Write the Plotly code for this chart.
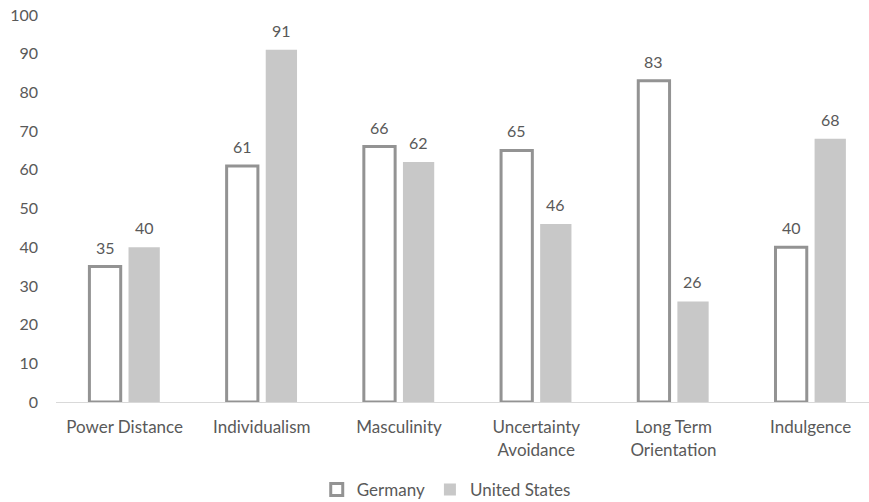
import plotly.graph_objects as go

categories = ["Power Distance", "Individualism", "Masculinity", "Uncertainty<br>Avoidance", "Long Term<br>Orientation", "Indulgence"]
germany = [35, 61, 66, 65, 83, 40]
united_states = [40, 91, 62, 46, 26, 68]
y_ticks = [0, 10, 20, 30, 40, 50, 60, 70, 80, 90, 100]

font_family = "Lato, 'Open Sans', sans-serif"
text_color = "#595959"

fig = go.Figure()
fig.add_trace(go.Bar(
    name="Germany", x=categories, y=germany,
    marker=dict(color="white", line=dict(color="#939393", width=3)),
))
fig.add_trace(go.Bar(
    name="United States", x=categories, y=united_states,
    marker=dict(color="#c8c8c8", line=dict(width=0)),
))

# value labels above bars
for vals, shift in ((germany, -19.5), (united_states, 19.5)):
    for c, v in zip(categories, vals):
        fig.add_annotation(
            x=c, y=v, xref="x", yref="y", text=str(v), showarrow=False,
            xshift=shift, yshift=8, yanchor="bottom",
            font=dict(size=16, color=text_color, family=font_family),
        )

fig.update_layout(
    width=869, height=502,
    margin=dict(l=56, r=0, t=15, b=100, autoexpand=False),
    paper_bgcolor="white", plot_bgcolor="white",
    barmode="group", bargap=0.43, bargroupgap=0.2,
    font=dict(family=font_family, size=16, color=text_color),
    xaxis=dict(
        range=[-0.5, 5.425], showgrid=False, showline=True, automargin=False,
        linecolor="#d9d9d9", linewidth=1, ticks="", zeroline=False,
        ticklabelstandoff=10,
        tickfont=dict(size=17, color=text_color),
    ),
    yaxis=dict(
        range=[0, 100], tickvals=y_ticks, showgrid=False, zeroline=False, automargin=False,
        showline=False, ticks="", ticklabelstandoff=17,
        tickfont=dict(size=16, color=text_color),
    ),
    legend=dict(
        orientation="h", x=0.48, xanchor="center",
        yref="container", y=0.024, yanchor="middle",
        font=dict(size=17, color=text_color), itemwidth=30,
    ),
)

fig.write_html("out.html")
